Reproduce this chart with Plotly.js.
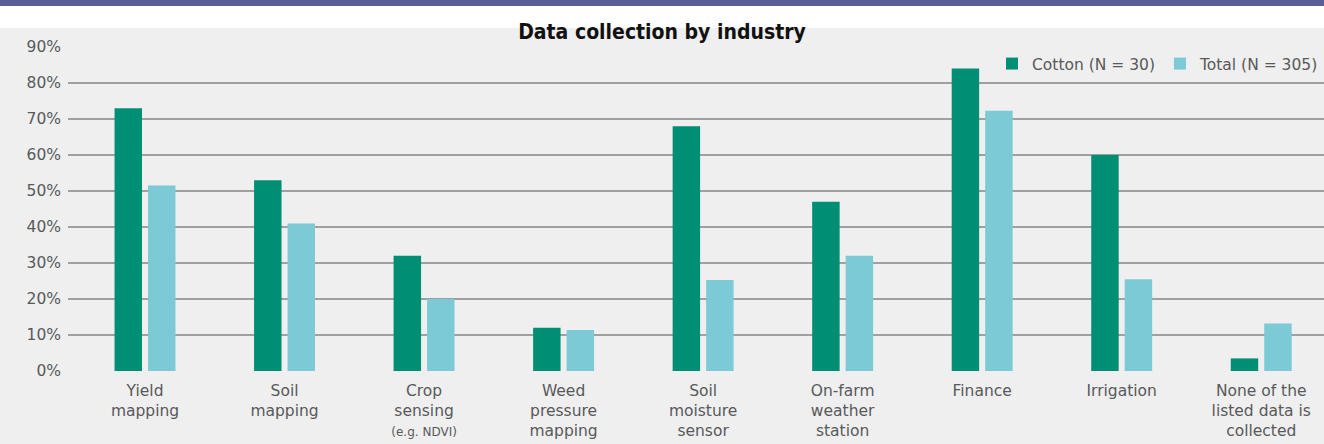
<!DOCTYPE html>
<html>
<head>
<meta charset="utf-8">
<script src="https://cdn.plot.ly/plotly-3.0.1.min.js"></script>
<style>
  html, body { margin: 0; padding: 0; background: #efefef; }
  #chart { width: 1324px; height: 444px; }
</style>
</head>
<body>
<div id="chart"></div>
<script>
const categories = [
  "Yield<br>mapping",
  "Soil<br>mapping",
  "Crop<br>sensing<br><span style='font-size:12px'>(e.g. NDVI)</span>",
  "Weed<br>pressure<br>mapping",
  "Soil<br>moisture<br>sensor",
  "On-farm<br>weather<br>station",
  "Finance",
  "Irrigation",
  "None of the<br>listed data is<br>collected"
];
const cottonValues = [73, 53, 32, 12, 68, 47, 84, 60, 3.5];
const totalValues  = [51.5, 41, 20, 11.4, 25.3, 32, 72.3, 25.5, 13.2];
const seriesNames = ["Cotton (N = 30)", "Total (N = 305)"];
const yTickValues = [0, 10, 20, 30, 40, 50, 60, 70, 80, 90];
const yTickLabels = ["0%", "10%", "20%", "30%", "40%", "50%", "60%", "70%", "80%", "90%"];
const chartTitle = "Data collection by industry";

const traces = [
  { type: "bar", name: seriesNames[0], x: categories, y: cottonValues,
    marker: { color: "#008f74" }, hoverinfo: "skip" },
  { type: "bar", name: seriesNames[1], x: categories, y: totalValues,
    marker: { color: "#7ccad6" }, hoverinfo: "skip" }
];

const textFont = "'DejaVu Sans', sans-serif";

const layout = {
  width: 1324, height: 444,
  margin: { l: 68, r: 0, t: 47, b: 73 },
  paper_bgcolor: "#efefef",
  plot_bgcolor: "#efefef",
  barmode: "group",
  bargap: 0.52,
  bargroupgap: 0.18,
  title: {
    text: "<b>" + chartTitle + "</b>",
    x: 0.5, xref: "container", xanchor: "center",
    y: 0.928, yref: "container", yanchor: "middle",
    font: { family: "'DejaVu Sans Condensed', 'Liberation Sans Narrow', sans-serif", size: 21, color: "#111" }
  },
  font: { family: textFont, size: 15, color: "#58595b" },
  showlegend: true,
  legend: {
    orientation: "h",
    x: 1.0, xanchor: "right",
    y: 1.0, yanchor: "top",
    bgcolor: "rgba(0,0,0,0)",
    font: { family: textFont, size: 15.5, color: "#58595b" },
    itemwidth: 30,
    tracegroupgap: 0
  },
  xaxis: {
    type: "category",
    range: [-0.552, 8.45],
    showgrid: false, zeroline: false, showline: false,
    ticks: "",
    ticklabelstandoff: 8,
    tickfont: { family: textFont, size: 15.5, color: "#58595b" },
    fixedrange: true
  },
  yaxis: {
    range: [0, 90],
    tickvals: yTickValues,
    ticktext: yTickLabels,
    showgrid: true, gridcolor: "#a0a0a0", gridwidth: 2,
    zeroline: false, showline: false,
    ticks: "",
    ticklabelstandoff: 6,
    tickfont: { family: textFont, size: 15.5, color: "#58595b" },
    fixedrange: true
  },
  shapes: [
    { type: "rect", xref: "paper", yref: "paper", x0: -0.1, x1: 1.1,
      y0: 1.0586, y1: 1.2, fillcolor: "#ffffff", line: { width: 0 }, layer: "below" },
    { type: "rect", xref: "paper", yref: "paper", x0: -0.1, x1: 1.1,
      y0: 1.1265, y1: 1.2, fillcolor: "#5a5e96", line: { width: 0 }, layer: "above" }
  ]
};

Plotly.newPlot("chart", traces, layout, { displayModeBar: false, staticPlot: true });
</script>
</body>
</html>
